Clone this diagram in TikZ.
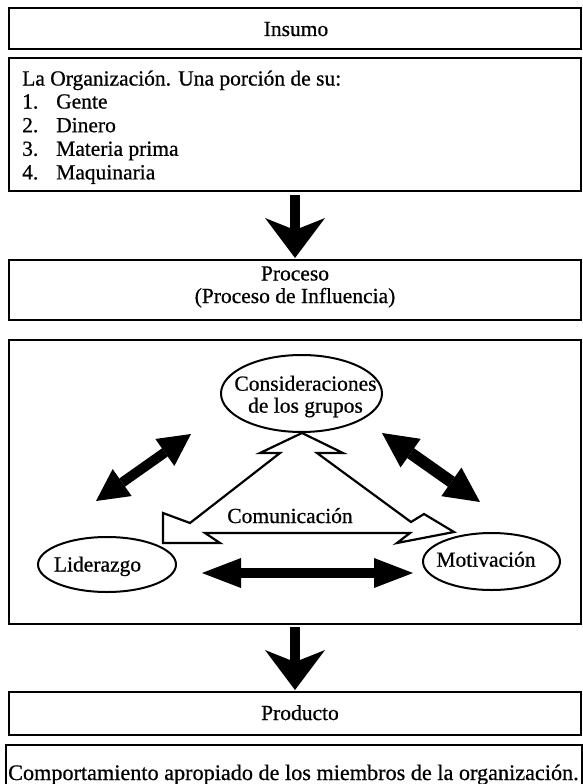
\documentclass[tikz,border=0pt]{standalone}
\usepackage{fontspec}
\setmainfont{Liberation Serif}[FakeBold=0.7]
\usetikzlibrary{arrows.meta,shapes.geometric}
\begin{document}
\begin{tikzpicture}[x=1pt,y=-1pt,
  box/.style={draw, line width=2.2pt, rectangle, inner sep=0pt, outer sep=0pt},
  txt/.style={inner sep=0pt, font=\fontsize{21.5pt}{23.6pt}\selectfont},
  oval/.style={draw, ellipse, line width=2pt, inner sep=0pt, outer sep=0pt},
  bigdown/.style={line width=10pt, -{Stealth[length=40pt,width=60pt,inset=12pt,line width=0pt]}},
  dblA/.style={line width=10pt, {Triangle[length=32pt,width=33pt,line width=0pt]}-{Triangle[length=32pt,width=33pt,line width=0pt]}},
  dblB/.style={line width=12pt, {Triangle[length=35pt,width=35pt,line width=0pt]}-{Triangle[length=35pt,width=35pt,line width=0pt]}},
  dblC/.style={line width=10pt, {Triangle[length=39pt,width=30pt,line width=0pt]}-{Triangle[length=39pt,width=30pt,line width=0pt]}},
  bolt/.style={draw, line width=2.2pt, line join=miter}
]
\useasboundingbox (0,0) rectangle (583,784);
\fill[white] (0,0) rectangle (583,784);

% boxes
\node[box, minimum width=572pt, minimum height=41pt] (insumo) at (295,28.5) {};
\node[box, minimum width=572pt, minimum height=133pt] (org) at (295,124.5) {};
\node[box, minimum width=572pt, minimum height=60pt] (proc) at (295,290) {};
\node[box, minimum width=572pt, minimum height=284pt] (infl) at (295,482) {};
\node[box, minimum width=572pt, minimum height=43pt] (prod) at (295,713.5) {};
\node[box, minimum width=576pt, minimum height=41pt] (comp) at (294,765.5) {};

% texts in boxes
\node[txt, anchor=base] (tinsumo) at (296,36) {Insumo};
\node[txt, anchor=base west] (t0) at (22,85.5) {La Organización. Una porción de su:};
\node[txt, anchor=base west] (t1) at (22,108.5) {\makebox[34pt][l]{1.}Gente};
\node[txt, anchor=base west] (t2) at (22,132.2) {\makebox[34pt][l]{2.}Dinero};
\node[txt, anchor=base west] (t3) at (22,155.8) {\makebox[34pt][l]{3.}Materia prima};
\node[txt, anchor=base west] (t4) at (22,179.4) {\makebox[34pt][l]{4.}Maquinaria};
\node[txt, anchor=base] (tp1) at (295,280.5) {Proceso};
\node[txt, anchor=base] (tp2) at (295,303) {(Proceso de Influencia)};
\node[txt, anchor=base] (tprod) at (300,720) {Producto};
\node[txt, anchor=base west, font=\fontsize{22.2pt}{24pt}\selectfont] (tcomp) at (8,780) {Comportamiento apropiado de los miembros de la organización.};

% big down arrows
\draw[bigdown, shorten <=4pt, shorten >=2pt] (org.south) -- (proc.north);
\draw[bigdown, shorten <=3pt, shorten >=2pt] (infl.south) -- (prod.north);

% lightning triangle
\draw[bolt] (302,433) -- (343,453) -- (317,453) -- (411,522) -- (424,514) -- (454,532)
  -- (397,543) -- (410,533) -- (205,533) -- (220,543) -- (163,543) -- (163,513)
  -- (190,523) -- (280,453) -- (260,453) -- cycle;
\node[txt, anchor=base] (tcom) at (290,523) {Comunicación};

% ellipses
\node[oval, minimum width=161pt, minimum height=77pt] (cons) at (301.5,393.5) {};
\node[txt, anchor=base] (tc1) at (305.5,390.7) {Consideraciones};
\node[txt, anchor=base] (tc2) at (305.5,412.7) {de los grupos};
\node[oval, minimum width=138pt, minimum height=55pt] (lid) at (107,564.5) {};
\node[txt, anchor=base] (tlid) at (97.5,571.5) {Liderazgo};
\node[oval, minimum width=137pt, minimum height=57pt] (mot) at (491.5,561.5) {};
\node[txt, anchor=base] (tmot) at (486,566.7) {Motivación};

% double arrows
\coordinate (l1) at (96,501);
\coordinate (l2) at (191,434);
\draw[dblA] (l1) -- (l2);
\coordinate (r1) at (382,433);
\coordinate (r2) at (480,502);
\draw[dblB] (r1) -- (r2);
\coordinate (h1) at (202,573);
\coordinate (h2) at (413,573);
\draw[dblC] (h1) -- (h2);
\end{tikzpicture}
\end{document}
